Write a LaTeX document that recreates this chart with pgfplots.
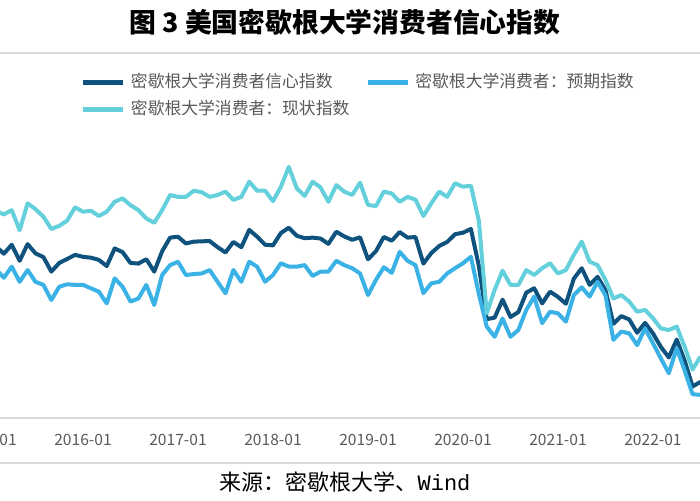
\documentclass[border=0pt]{standalone}
\usepackage{fontspec}
\setmainfont{Noto Sans CJK SC}
\newfontfamily\monofont{Liberation Mono}
\usepackage{pgfplots}
\usepackage{pgfplotstable}
\pgfplotsset{compat=1.18}

\definecolor{cDark}{HTML}{0E527D}
\definecolor{cBlue}{HTML}{3BB2E6}
\definecolor{cCyan}{HTML}{64D0DC}
\definecolor{cGrey}{HTML}{595959}
\definecolor{cRule}{HTML}{D9D9D9}

% k = months since 2015-01; ics = sentiment, ice = expectations, icc = current conditions
\pgfplotstableread{
k ics ice icc
0 98.1 90.8 109.3
1 95.4 88.0 106.9
2 93.0 85.2 105.7
3 95.9 88.8 107.1
4 90.7 83.9 100.6
5 96.1 87.7 109.3
6 93.1 83.9 107.4
7 91.9 82.9 105.0
8 87.2 78.0 101.0
9 90.0 82.3 102.0
10 91.3 83.1 103.7
11 92.6 82.9 108.0
12 92.0 82.9 106.6
13 91.7 81.8 106.9
14 91.0 80.7 105.2
15 89.0 76.9 106.6
16 94.7 85.0 109.8
17 93.5 82.3 110.9
18 90.0 77.5 108.7
19 89.8 78.5 107.1
20 91.2 82.9 104.4
21 87.2 76.4 103.0
22 93.8 86.1 107.1
23 98.2 89.3 112.0
24 98.5 90.4 111.4
25 96.3 86.1 111.4
26 96.9 86.4 113.4
27 97.0 86.6 112.9
28 97.1 87.7 111.4
29 95.1 83.9 112.0
30 93.4 80.2 113.1
31 96.8 87.7 110.4
32 95.1 83.9 111.4
33 100.7 90.4 116.3
34 98.5 88.8 113.4
35 95.9 83.9 113.4
36 95.7 86.1 110.0
37 99.7 89.9 114.7
38 101.4 88.8 121.1
39 98.8 88.8 114.2
40 98.0 89.3 111.7
41 98.2 85.8 116.3
42 97.9 87.2 114.5
43 96.2 87.2 109.8
44 100.1 90.7 115.2
45 98.6 89.3 113.1
46 97.5 88.3 112.0
47 98.3 86.6 116.0
48 91.2 79.6 108.8
49 93.8 84.5 108.4
50 98.4 88.6 113.1
51 97.2 86.8 112.5
52 100.0 93.6 109.8
53 98.2 90.7 111.4
54 98.4 89.3 110.5
55 89.8 80.2 105.2
56 93.2 83.4 109.3
57 95.5 83.9 113.1
58 96.8 86.6 111.4
59 99.3 88.3 115.8
60 99.8 89.9 114.7
61 101.0 92.0 115.0
62 89.1 80.0 103.7
63 71.8 69.4 73.7
64 72.3 66.1 81.3
65 78.1 72.0 87.5
66 72.5 66.1 82.9
67 74.1 68.3 82.9
68 80.4 74.8 87.7
69 81.8 79.1 86.1
70 76.9 70.5 88.3
71 80.7 74.2 89.9
72 79.0 73.7 86.6
73 76.8 71.0 87.7
74 84.9 79.6 92.6
75 88.3 82.1 96.9
76 82.9 79.1 90.4
77 85.5 83.9 89.3
78 81.2 79.5 84.5
79 70.3 65.1 78.5
80 72.8 67.8 79.6
81 71.7 67.2 77.5
82 67.4 63.4 74.2
83 70.6 68.8 74.8
84 67.2 64.0 72.1
85 62.8 59.1 68.8
86 59.4 54.3 68.3
87 65.2 62.4 69.4
88 58.4 55.2 62.9
89 50.0 47.5 55.5
90 51.5 47.3 59.7
}\umich

\begin{document}
\begin{tikzpicture}
\useasboundingbox (0,0) rectangle (350pt,250pt);
\node[font=\bfseries\fontsize{13.4}{14}\selectfont] at (172.5pt,239pt)
  {图 3 美国密歇根大学消费者信心指数};
\draw[cRule, line width=0.9pt] (0,223.5pt) -- (350pt,223.5pt);
\draw[cRule, line width=0.9pt] (0,18.5pt) -- (350pt,18.5pt);
\node[font=\fontsize{11}{12}\selectfont] at (172.5pt,9pt)
  {来源：密歇根大学、{\monofont Wind}};

\begin{axis}[
  at={(0,41pt)}, anchor=south west,
  scale only axis, width=350pt, height=139pt,
  xmin=1.516, xmax=89.94, ymin=39.8, ymax=129.8,
  clip=false,
  axis x line*=bottom, axis y line=none,
  x axis line style={cRule, line width=0.9pt},
  xtick={12,24,36,48,60,72,84},
  xticklabels={2016-01,2017-01,2018-01,2019-01,2020-01,2021-01,2022-01},
  major tick length=0pt,
  ytick=\empty,
  xticklabel style={font=\fontsize{7.8}{8}\selectfont, text=cGrey,
    anchor=center, yshift=-11pt},
  every axis plot/.append style={line width=2pt, line join=round},
  legend columns=2,
  legend cell align=left,
  legend image code/.code={\draw[#1, line width=2.5pt] (0pt,0pt) -- (20pt,0pt);},
  legend style={at={(axis description cs:0.1157,1.2374)}, anchor=north west,
    draw=none, fill=none, inner sep=0pt, outer sep=0pt,
    font=\fontsize{8.4}{9}\selectfont, text=cGrey, row sep=5.5pt,
    nodes={inner sep=0pt, text height=6.5pt, text depth=1.5pt},
    /tikz/every odd column/.append style={column sep=2.5pt},
    /tikz/every even column/.append style={column sep=8pt}},
]
\addplot[cDark] table[x=k, y=ics] {\umich};
\addlegendentry{密歇根大学消费者信心指数}
\addplot[cBlue] table[x=k, y=ice] {\umich};
\addlegendentry{密歇根大学消费者：预期指数}
\addplot[cCyan] table[x=k, y=icc] {\umich};
\addlegendentry{密歇根大学消费者：现状指数}
% 2015-01 lies left of the visible range; only its tail shows, as in the source
\node[font=\fontsize{7.8}{8}\selectfont, text=cGrey, anchor=center, yshift=-11pt]
  at (axis cs:0,39.8) {2015-01};
\end{axis}
\end{tikzpicture}
\end{document}
